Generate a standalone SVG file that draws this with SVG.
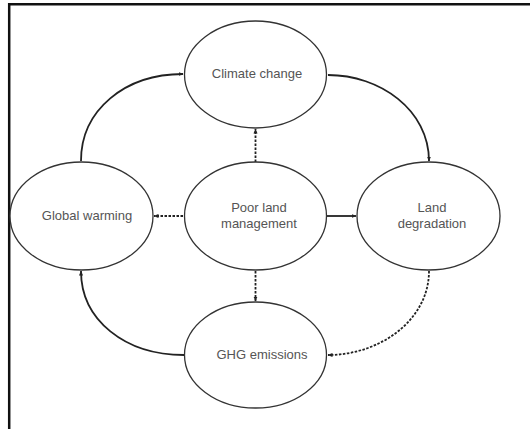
<svg xmlns="http://www.w3.org/2000/svg" width="530" height="429" viewBox="0 0 530 429">
<defs>
<marker id="ah" viewBox="0 0 10 10" refX="9" refY="5" markerWidth="5" markerHeight="5" orient="auto" markerUnits="userSpaceOnUse">
<path d="M0,1 L10,5 L0,9 z" fill="#222"/>
</marker>
<style>
.node ellipse{fill:#fff;stroke:#333;stroke-width:1.3}
.node text{font-family:"Liberation Sans",Arial,sans-serif;font-size:13px;fill:#555;text-anchor:middle}
.c{fill:none;stroke:#222;stroke-width:1.8;marker-end:url(#ah)}
.d{stroke-dasharray:2.5 1.5}
</style>
</defs>
<rect width="530" height="429" fill="#fff"/>
<g id="frame" stroke="#111" stroke-width="2.5" fill="none">
<line x1="8" y1="4.2" x2="530" y2="4.2"/>
<line x1="9.2" y1="3" x2="9.2" y2="429"/>
</g>
<g id="connectors">
<path class="c" d="M81,161 C81,110 125,74 183,74"/>
<path class="c" d="M328,75 C380,75 429,110 429,161"/>
<path class="c d" d="M429,271 C429,320 380,355 328,355"/>
<path class="c" d="M184,355 C125,355 81,320 81,271"/>
<path class="c d" d="M255.5,162 L255.5,129"/>
<path class="c d" d="M183,216 L154,216"/>
<path class="c" d="M327,216 L356,216"/>
<path class="c d" d="M255.5,271 L255.5,301"/>
</g>
<g id="climate" class="node">
<ellipse cx="255.5" cy="74.5" rx="71" ry="53.5"/>
<text x="257" y="78">Climate change</text>
</g>
<g id="poor" class="node">
<ellipse cx="255.5" cy="216" rx="71" ry="54"/>
<text x="259" y="212">Poor land</text>
<text x="259" y="228">management</text>
</g>
<g id="global" class="node">
<ellipse cx="81.5" cy="216" rx="71.5" ry="54"/>
<text x="87" y="220">Global warming</text>
</g>
<g id="land" class="node">
<ellipse cx="428.5" cy="216" rx="71.5" ry="54"/>
<text x="432" y="212">Land</text>
<text x="432" y="228">degradation</text>
</g>
<g id="ghg" class="node">
<ellipse cx="255.5" cy="355" rx="71" ry="53"/>
<text x="262" y="359">GHG emissions</text>
</g>
</svg>
